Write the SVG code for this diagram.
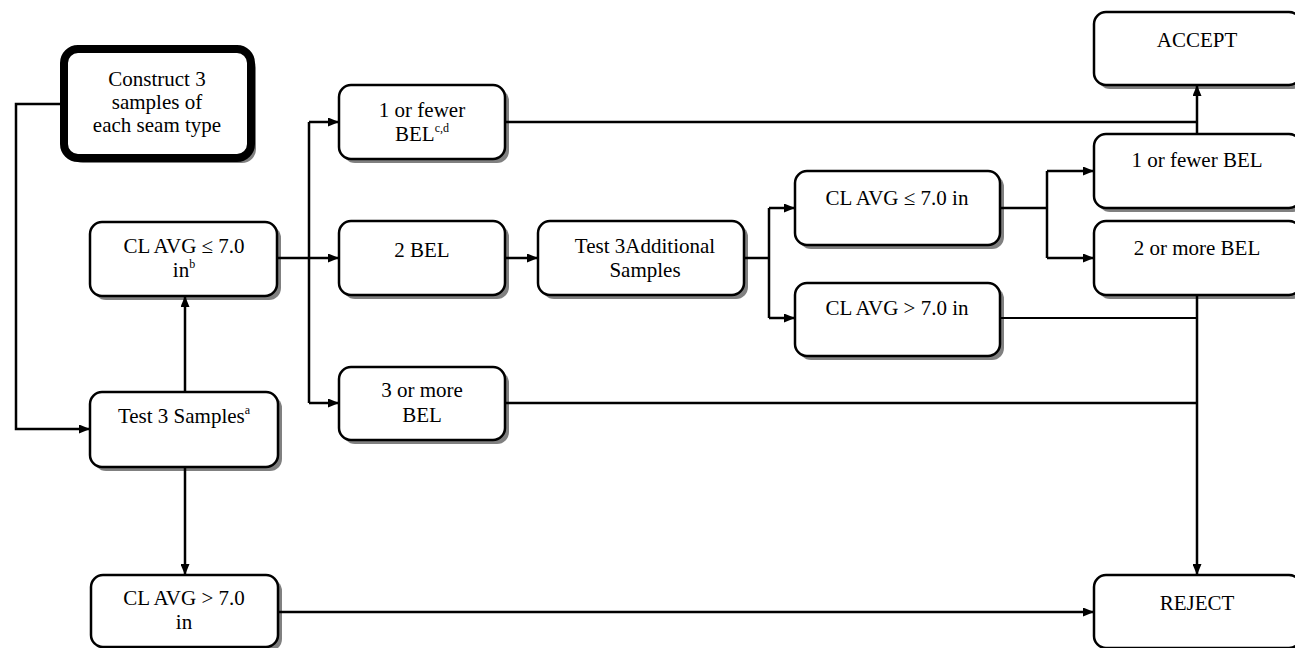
<svg xmlns="http://www.w3.org/2000/svg" width="1295" height="648" viewBox="0 0 1295 648">
<style>
.box{fill:#fff;stroke:#000;stroke-width:2.5}
.sh{fill:#808080}
.t{font-family:"Liberation Serif","Times New Roman",serif;font-size:21px;fill:#000;text-anchor:middle}
.sup{font-size:12px}
.c{fill:none;stroke:#000;stroke-width:2.5}
</style>
<defs>
<marker id="ah" markerUnits="userSpaceOnUse" markerWidth="11" markerHeight="9" refX="11" refY="4.5" orient="auto">
<path d="M0,0 L11,4.5 L0,9 z" fill="#000"/>
</marker>
</defs>
<rect width="1295" height="648" fill="#fff"/>

<g id="construct">
<rect class="sh" x="69" y="54" width="187" height="109" rx="14"/>
<rect x="64" y="49" width="187" height="109" rx="14" fill="#fff" stroke="#000" stroke-width="8"/>
<text class="t" x="157" y="86">Construct 3</text>
<text class="t" x="157" y="109">samples of</text>
<text class="t" x="157" y="132">each seam type</text>
</g>

<g id="clavg_le_left">
<rect class="sh" x="94" y="226" width="187" height="74" rx="12"/>
<rect class="box" x="90" y="222" width="187" height="74" rx="12"/>
<text class="t" x="184" y="253">CL AVG ≤ 7.0</text>
<text class="t" x="184" y="277">in<tspan class="sup" dy="-9">b</tspan></text>
</g>

<g id="test3">
<rect class="sh" x="94" y="396" width="188" height="75" rx="12"/>
<rect class="box" x="90" y="392" width="188" height="75" rx="12"/>
<text class="t" x="184" y="423">Test 3 Samples<tspan class="sup" dy="-9">a</tspan></text>
</g>

<g id="clavg_gt_bottom">
<rect class="sh" x="95" y="579" width="187" height="72" rx="12"/>
<rect class="box" x="91" y="575" width="187" height="72" rx="12"/>
<text class="t" x="184" y="605">CL AVG &gt; 7.0</text>
<text class="t" x="184" y="629">in</text>
</g>

<g id="fewer_left">
<rect class="sh" x="343" y="89" width="166" height="74" rx="12"/>
<rect class="box" x="339" y="85" width="166" height="74" rx="12"/>
<text class="t" x="422" y="117">1 or fewer</text>
<text class="t" x="422" y="141">BEL<tspan class="sup" dy="-9">c,d</tspan></text>
</g>

<g id="bel2">
<rect class="sh" x="343" y="225" width="166" height="74" rx="12"/>
<rect class="box" x="339" y="221" width="166" height="74" rx="12"/>
<text class="t" x="422" y="257">2 BEL</text>
</g>

<g id="more3">
<rect class="sh" x="343" y="371" width="166" height="73" rx="12"/>
<rect class="box" x="339" y="367" width="166" height="73" rx="12"/>
<text class="t" x="422" y="397">3 or more</text>
<text class="t" x="422" y="422">BEL</text>
</g>

<g id="test3add">
<rect class="sh" x="542" y="225" width="206" height="74" rx="12"/>
<rect class="box" x="538" y="221" width="206" height="74" rx="12"/>
<text class="t" x="645" y="253">Test 3Additional</text>
<text class="t" x="645" y="277">Samples</text>
</g>

<g id="clavg_le_right">
<rect class="sh" x="799" y="175" width="205" height="74" rx="12"/>
<rect class="box" x="795" y="171" width="205" height="74" rx="12"/>
<text class="t" x="897" y="205">CL AVG ≤ 7.0 in</text>
</g>

<g id="clavg_gt_right">
<rect class="sh" x="799" y="287" width="205" height="73" rx="12"/>
<rect class="box" x="795" y="283" width="205" height="73" rx="12"/>
<text class="t" x="897" y="315">CL AVG &gt; 7.0 in</text>
</g>

<g id="accept">
<rect class="sh" x="1098" y="16" width="207" height="73" rx="12"/>
<rect class="box" x="1094" y="12" width="207" height="73" rx="12"/>
<text class="t" x="1197" y="47">ACCEPT</text>
</g>

<g id="fewer_right">
<rect class="sh" x="1098" y="138" width="207" height="74" rx="12"/>
<rect class="box" x="1094" y="134" width="207" height="74" rx="12"/>
<text class="t" x="1197" y="167">1 or fewer BEL</text>
</g>

<g id="more2_right">
<rect class="sh" x="1098" y="225" width="207" height="74" rx="12"/>
<rect class="box" x="1094" y="221" width="207" height="74" rx="12"/>
<text class="t" x="1197" y="255">2 or more BEL</text>
</g>

<g id="reject">
<rect class="sh" x="1098" y="579" width="207" height="73" rx="12"/>
<rect class="box" x="1094" y="575" width="207" height="73" rx="12"/>
<text class="t" x="1197" y="610">REJECT</text>
</g>

<g id="connectors">
<path class="c" d="M60,104 H16 V429 H90" marker-end="url(#ah)"/>
<path class="c" d="M185,392 V296" marker-end="url(#ah)"/>
<path class="c" d="M185,467 V575" marker-end="url(#ah)"/>
<path class="c" d="M277,258 H309"/>
<path class="c" d="M309,122 V403"/>
<path class="c" d="M309,122 H339" marker-end="url(#ah)"/>
<path class="c" d="M309,258 H339" marker-end="url(#ah)"/>
<path class="c" d="M309,403 H339" marker-end="url(#ah)"/>
<path class="c" d="M505,258 H538" marker-end="url(#ah)"/>
<path class="c" d="M744,258 H769"/>
<path class="c" d="M769,208 V318"/>
<path class="c" d="M769,208 H795" marker-end="url(#ah)"/>
<path class="c" d="M769,318 H795" marker-end="url(#ah)"/>
<path class="c" d="M1000,208 H1047"/>
<path class="c" d="M1047,171 V258"/>
<path class="c" d="M1047,171 H1094" marker-end="url(#ah)"/>
<path class="c" d="M1047,258 H1094" marker-end="url(#ah)"/>
<path class="c" d="M505,122 H1197"/>
<path class="c" d="M1197,134 V85" marker-end="url(#ah)"/>
<path class="c" d="M1000,318 H1197" style="stroke-width:2"/>
<path class="c" d="M505,403 H1197"/>
<path class="c" d="M1197,295 V575" marker-end="url(#ah)"/>
<path class="c" d="M278,612 H1094" marker-end="url(#ah)"/>
</g>
</svg>
